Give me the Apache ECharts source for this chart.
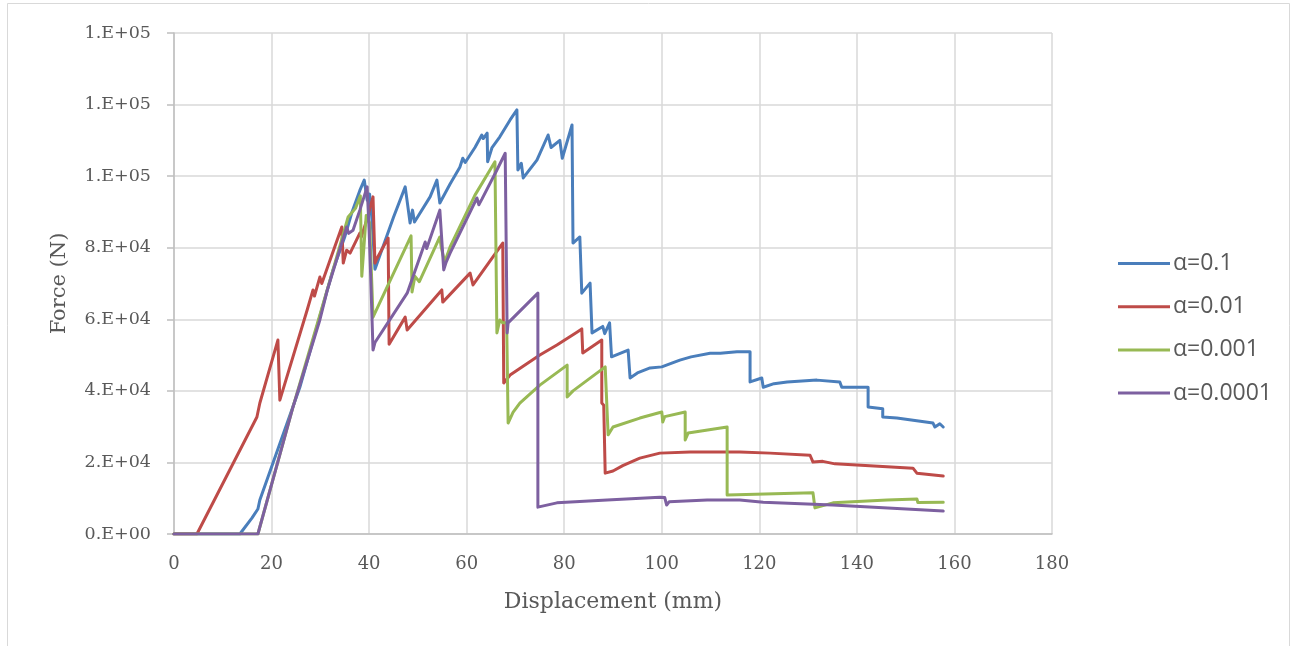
<!DOCTYPE html>
<html>
<head>
<meta charset="utf-8">
<script src="https://cdn.jsdelivr.net/npm/echarts@6/dist/echarts.min.js"></script>
<style>
  html, body { margin: 0; padding: 0; background: #ffffff; }
  #chart { width: 1296px; height: 646px; }
</style>
</head>
<body>
<div id="chart"></div>
<script>
// Force–displacement curves, [displacement (mm), force (N)]
const seriesNames = ['α=0.1', 'α=0.01', 'α=0.001', 'α=0.0001'];
const seriesColors = ['#4A7EBB', '#BE4B48', '#98B954', '#7D60A0'];

const alpha1 = [
  [0,0],[13.5,0],[16,4500],[17.2,7000],[17.6,9500],[25.8,41000],[32.6,73800],[35,83000],
  [36.5,90000],[38.1,96000],[39,98900],[39.6,93300],[40.1,95000],[40.6,87700],[41.2,74000],
  [45,88500],[47.4,97000],[48.4,86900],[48.9,90500],[49.3,87200],[52.5,94200],[53.9,98900],
  [54.5,92500],[56.6,97800],[58.6,102500],[59.2,105000],[59.7,103800],[61.7,108000],
  [63.1,111500],[63.4,110500],[64.2,112000],[64.3,104000],[65.2,108000],[66.8,111000],
  [68.9,115700],[70.3,118500],[70.5,101700],[71.2,103600],[71.6,99500],[74.4,104500],
  [76.7,111500],[77.3,108000],[79.1,110000],[79.6,105000],[81.6,114300],[81.8,81300],
  [83.2,83000],[83.6,67300],[85.3,70100],[85.7,56200],[87.9,58000],[88.3,56000],[89.3,59000],
  [89.7,49500],[93.1,51400],[93.5,43600],[95,45000],[97.6,46400],[100,46700],[103.7,48600],
  [106,49500],[109.9,50500],[112,50500],[115.4,50900],[118.1,50900],[118.1,42500],
  [120.5,43600],[120.8,41000],[123,42000],[125.7,42500],[131.8,43000],[136.5,42500],
  [136.9,41000],[142.3,41000],[142.3,35500],[145.3,35000],[145.3,32700],[148.2,32400],
  [155.6,31000],[156,29900],[157,30800],[157.7,29900]
];

const alpha01 = [
  [0,0],[4.7,0],[17,32700],[17.6,36600],[21.3,54200],[21.7,37400],[27.3,62600],[28.5,68200],
  [28.8,66500],[29.9,71800],[30.3,70000],[32,76600],[34.4,85800],[34.7,75700],[35.4,79300],
  [36.1,78500],[38.1,84100],[38.4,83000],[39.5,87700],[40.8,94200],[41.2,75700],[41.6,77000],
  [43.9,82700],[44.1,53000],[47.4,60600],[47.8,57000],[54.9,68200],[55.1,64800],[60.7,72900],
  [61.3,69600],[67.4,81300],[67.6,42200],[68.9,44400],[75,50000],[78.5,52800],[82.6,56400],
  [83.6,57300],[83.8,50600],[87.7,54200],[87.7,36600],[88.1,36000],[88.4,17000],[90,17600],
  [92,19100],[95.5,21200],[99.6,22600],[105.8,22900],[116,22900],[122.2,22600],[130.4,22000],
  [131,20100],[133,20300],[135.5,19600],[151.5,18400],[152.3,17000],[157.7,16200]
];

const alpha001 = [
  [0,0],[17.2,0],[24.4,35500],[32.6,73800],[35.7,88600],[37.2,91000],[38.2,94500],[38.5,72000],
  [39.4,89000],[40.1,87000],[40.8,60600],[48.6,83300],[48.8,67600],[49.4,72000],[50.3,70500],
  [54.5,83000],[54.8,80000],[55.5,76000],[56.6,80200],[61.7,94700],[65.8,104000],[66.1,104500],
  [66.2,56200],[66.8,59800],[67.4,59000],[68.2,59000],[68.5,31000],[69.5,34000],[70.9,36600],
  [75,41600],[80.6,47200],[80.6,38300],[81.8,40000],[88.4,46700],[89,27700],[90,29900],
  [95.5,32400],[100,34100],[100.2,31300],[100.6,32800],[104.8,34100],[104.8,26300],
  [105.4,28200],[113.4,29900],[113.4,10900],[131,11500],[131.4,7300],[135.1,8700],
  [146.2,9500],[152.3,9800],[152.5,8800],[157.7,8900]
];

const alpha0001 = [
  [0,0],[17.2,0],[24.4,35500],[29.9,59800],[31.4,68000],[35.4,85800],[35.8,84000],
  [36.7,84900],[38.1,90500],[39.6,97000],[40,85000],[40.3,73000],[40.8,51400],[41.2,53500],
  [47.8,67300],[51.5,81600],[51.8,79800],[54.5,90500],[55.3,73800],[55.8,76000],[56.6,78500],
  [62.1,93900],[62.5,92000],[63.1,93500],[66.2,101700],[67.9,106400],[68.3,56200],[68.5,59000],
  [74.6,67300],[74.6,7500],[78.5,8700],[88.8,9500],[99.6,10300],[100.6,10200],[101,8100],
  [101.5,9000],[109.3,9500],[116,9500],[120.8,8900],[121.2,8400],[135,8100],[157.7,6400]
];

const seriesData = [alpha1, alpha01, alpha001, alpha0001];

// Axis extents and tick spacing
const xMin = 0, xMax = 180, xStep = 20;
const yMin = 0, yMax = 140000, yStep = 20000;

// Spreadsheet-style "0.E+00" number format
function sciLabel(v) {
  if (v === 0) return '0.E+00';
  const exp = Math.floor(Math.log10(Math.abs(v)));
  let mant = Math.round(v / Math.pow(10, exp));
  let e = exp;
  if (mant >= 10) { mant = 1; e += 1; }
  const es = (e < 0 ? '-' : '+') + String(Math.abs(e)).padStart(2, '0');
  return mant + '.E' + es;
}

const serif = 'DejaVu Serif';
const labelColor = '#595959';

const chart = echarts.init(document.getElementById('chart'), null, { renderer: 'canvas' });

chart.setOption({
  animation: false,
  backgroundColor: '#ffffff',
  graphic: [{
    type: 'rect',
    shape: { x: 7.5, y: 3.5, width: 1282, height: 660 },
    style: { fill: 'none', stroke: '#d9d9d9', lineWidth: 1 },
    z: -10
  }],
  grid: { left: 174, right: 244, top: 33, bottom: 112 },
  legend: {
    orient: 'vertical',
    left: 1113,
    top: 247,
    icon: 'rect',
    itemWidth: 52,
    itemHeight: 3,
    itemGap: 20.2,
    textStyle: { fontFamily: 'Open Sans', fontSize: 23, color: labelColor, lineHeight: 23, padding: [0, 0, 0, -2] },
    data: seriesNames
  },
  xAxis: {
    type: 'value',
    min: xMin, max: xMax, interval: xStep,
    name: 'Displacement (mm)',
    nameLocation: 'middle',
    nameGap: 57,
    nameTextStyle: { fontFamily: serif, fontSize: 22, color: labelColor },
    axisLine: { lineStyle: { color: '#bfbfbf', width: 1.5 } },
    axisTick: { show: false },
    axisLabel: { margin: 21, fontFamily: serif, fontSize: 18, color: labelColor },
    splitLine: { show: true, lineStyle: { color: '#d9d9d9', width: 1.5 } }
  },
  yAxis: {
    type: 'value',
    min: yMin, max: yMax, interval: yStep,
    name: 'Force (N)',
    nameLocation: 'middle',
    nameGap: 104,
    nameTextStyle: { fontFamily: serif, fontSize: 21, color: labelColor },
    axisLine: { show: true, lineStyle: { color: '#bfbfbf', width: 1.5 } },
    axisTick: { show: true, length: 7, inside: false, lineStyle: { color: '#bfbfbf', width: 1.5 } },
    axisLabel: { margin: 23, fontFamily: serif, fontSize: 17.5, color: labelColor, formatter: sciLabel },
    splitLine: { show: true, lineStyle: { color: '#d9d9d9', width: 1.5 } }
  },
  series: seriesData.map((d, i) => ({
    name: seriesNames[i],
    type: 'line',
    data: d,
    showSymbol: false,
    symbol: 'none',
    color: seriesColors[i],
    lineStyle: { width: 3, color: seriesColors[i], cap: 'round', join: 'round' },
    emphasis: { disabled: true }
  }))
});
</script>
</body>
</html>
